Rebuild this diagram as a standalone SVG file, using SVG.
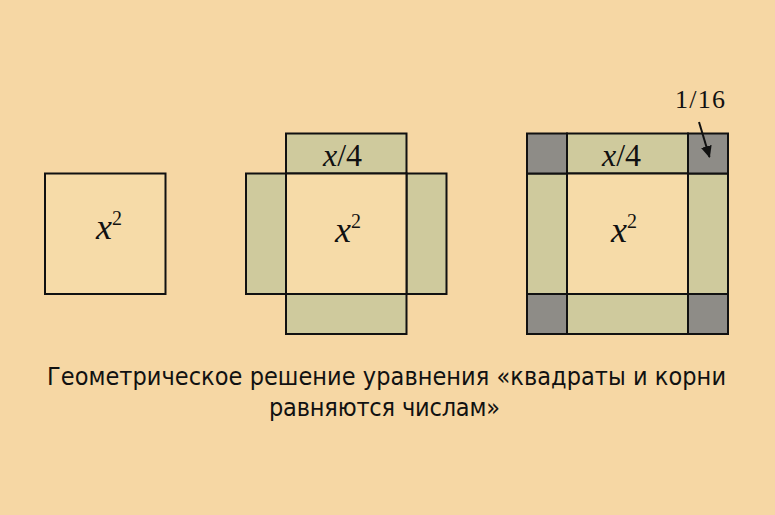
<svg xmlns="http://www.w3.org/2000/svg" width="775" height="515" viewBox="0 0 775 515">
<defs>
<style>
.sq{fill:#F6DBA8;stroke:#111;stroke-width:2}
.st{fill:#CFCA9D;stroke:#111;stroke-width:2}
.cn{fill:#8E8C87;stroke:#111;stroke-width:2}
.m{font-family:"Liberation Serif","Times New Roman",serif;fill:#111}
.mi{font-style:italic}
.cap{font-family:"DejaVu Sans Condensed","Liberation Sans",sans-serif;font-size:25px;fill:#111}
</style>
<marker id="ah" markerWidth="12" markerHeight="11" refX="11" refY="5.5" orient="auto" markerUnits="userSpaceOnUse" viewBox="0 0 12 11">
<path d="M0,0 L12,5.5 L0,11 z" fill="#111"/>
</marker>
</defs>
<rect width="775" height="515" fill="#F6D7A4"/>
<g id="fig1">
<rect class="sq" x="45" y="173.5" width="120.5" height="120.5"/>
<text class="m" x="96" y="239" font-size="36"><tspan class="mi">x</tspan><tspan font-size="20" dy="-14">2</tspan></text>
</g>
<g id="fig2">
<rect class="st" x="286" y="133.5" width="120.5" height="40"/>
<rect class="st" x="286" y="294" width="120.5" height="40"/>
<rect class="st" x="246" y="173.5" width="40" height="120.5"/>
<rect class="st" x="406.5" y="173.5" width="40" height="120.5"/>
<rect class="sq" x="286" y="173.5" width="120.5" height="120.5"/>
<text class="m" x="323" y="166" font-size="32"><tspan class="mi">x</tspan>/4</text>
<text class="m" x="335" y="242" font-size="36"><tspan class="mi">x</tspan><tspan font-size="20" dy="-14">2</tspan></text>
</g>
<g id="fig3">
<rect class="st" x="567" y="133.5" width="121" height="40"/>
<rect class="st" x="567" y="294" width="121" height="40"/>
<rect class="st" x="527" y="173.5" width="40" height="120.5"/>
<rect class="st" x="688" y="173.5" width="40" height="120.5"/>
<rect class="cn" x="527" y="133.5" width="40" height="40"/>
<rect class="cn" x="688" y="133.5" width="40" height="40"/>
<rect class="cn" x="527" y="294" width="40" height="40"/>
<rect class="cn" x="688" y="294" width="40" height="40"/>
<rect class="sq" x="567" y="173.5" width="121" height="120.5"/>
<text class="m" x="602" y="166" font-size="32"><tspan class="mi">x</tspan>/4</text>
<text class="m" x="611" y="242" font-size="36"><tspan class="mi">x</tspan><tspan font-size="20" dy="-14">2</tspan></text>
<text class="m" x="675" y="108" font-size="26" textLength="50" lengthAdjust="spacing">1/16</text>
</g>
<g id="connectors">
<line x1="699" y1="122" x2="709.5" y2="157" stroke="#111" stroke-width="2" marker-end="url(#ah)"/>
</g>
<g id="caption">
<text class="cap" x="47" y="385" textLength="679" lengthAdjust="spacing">Геометрическое решение уравнения «квадраты и корни</text>
<text class="cap" x="269" y="416" textLength="231" lengthAdjust="spacing">равняются числам»</text>
</g>
</svg>
